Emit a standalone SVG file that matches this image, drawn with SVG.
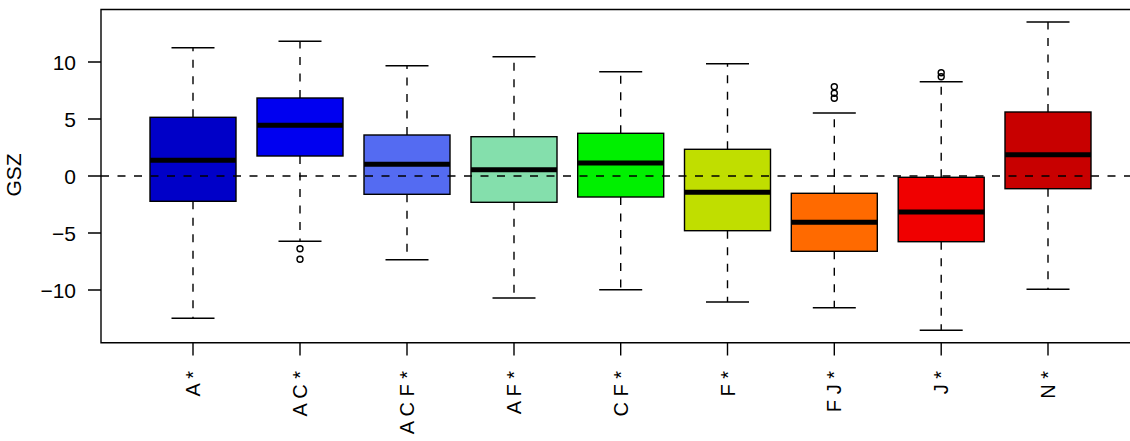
<svg xmlns="http://www.w3.org/2000/svg" width="1130" height="441" viewBox="0 0 1130 441">
<style>
text{font-family:"Liberation Sans",Arial,sans-serif;font-size:20px;fill:#000}
.box{stroke:#000;stroke-width:1.4}
.med{stroke:#000;stroke-width:5}
.wh{stroke:#000;stroke-width:1.4;stroke-dasharray:8 8.5;fill:none}
.cap{stroke:#000;stroke-width:1.4}
.out{fill:none;stroke:#000;stroke-width:1.4}
.ax{stroke:#000;stroke-width:1.4;fill:none}
.xl{text-anchor:end}
.yl{text-anchor:end;font-size:21px}
.ttl{text-anchor:middle;font-size:21px}
</style>
<rect width="1130" height="441" fill="#fff"/>
<g id="box-A">
<line class="wh" x1="193" y1="117.3" x2="193" y2="47.7"/>
<line class="wh" x1="193" y1="201.3" x2="193" y2="318.3"/>
<line class="cap" x1="171.5" y1="47.7" x2="214.5" y2="47.7"/>
<line class="cap" x1="171.5" y1="318.3" x2="214.5" y2="318.3"/>
<rect class="box" x="150" y="117.3" width="86" height="84" fill="#0000C8"/>
<line class="med" x1="150" y1="160.3" x2="236" y2="160.3"/>
</g>
<g id="box-AC">
<line class="wh" x1="300" y1="98" x2="300" y2="41.3"/>
<line class="wh" x1="300" y1="156" x2="300" y2="241.3"/>
<line class="cap" x1="278.5" y1="41.3" x2="321.5" y2="41.3"/>
<line class="cap" x1="278.5" y1="241.3" x2="321.5" y2="241.3"/>
<rect class="box" x="257" y="98" width="86" height="58" fill="#0000F0"/>
<line class="med" x1="257" y1="125.3" x2="343" y2="125.3"/>
<circle class="out" cx="300" cy="248.7" r="3"/>
<circle class="out" cx="300" cy="259.3" r="3"/>
</g>
<g id="box-ACF">
<line class="wh" x1="407" y1="135" x2="407" y2="65.7"/>
<line class="wh" x1="407" y1="194.3" x2="407" y2="259.7"/>
<line class="cap" x1="385.5" y1="65.7" x2="428.5" y2="65.7"/>
<line class="cap" x1="385.5" y1="259.7" x2="428.5" y2="259.7"/>
<rect class="box" x="364" y="135" width="86" height="59.3" fill="#546BF2"/>
<line class="med" x1="364" y1="164.3" x2="450" y2="164.3"/>
</g>
<g id="box-AF">
<line class="wh" x1="514" y1="136.7" x2="514" y2="56.7"/>
<line class="wh" x1="514" y1="202.3" x2="514" y2="298"/>
<line class="cap" x1="492.5" y1="56.7" x2="535.5" y2="56.7"/>
<line class="cap" x1="492.5" y1="298" x2="535.5" y2="298"/>
<rect class="box" x="471" y="136.7" width="86" height="65.6" fill="#84DFAC"/>
<line class="med" x1="471" y1="169.7" x2="557" y2="169.7"/>
</g>
<g id="box-CF">
<line class="wh" x1="620.7" y1="133.3" x2="620.7" y2="71.7"/>
<line class="wh" x1="620.7" y1="197" x2="620.7" y2="289.7"/>
<line class="cap" x1="599.2" y1="71.7" x2="642.2" y2="71.7"/>
<line class="cap" x1="599.2" y1="289.7" x2="642.2" y2="289.7"/>
<rect class="box" x="577.7" y="133.3" width="86" height="63.7" fill="#00F000"/>
<line class="med" x1="577.7" y1="163" x2="663.7" y2="163"/>
</g>
<g id="box-F">
<line class="wh" x1="727.5" y1="149.3" x2="727.5" y2="63.7"/>
<line class="wh" x1="727.5" y1="230.7" x2="727.5" y2="302"/>
<line class="cap" x1="706" y1="63.7" x2="749" y2="63.7"/>
<line class="cap" x1="706" y1="302" x2="749" y2="302"/>
<rect class="box" x="684.5" y="149.3" width="86" height="81.4" fill="#C0DE00"/>
<line class="med" x1="684.5" y1="192.3" x2="770.5" y2="192.3"/>
</g>
<g id="box-FJ">
<line class="wh" x1="834.3" y1="193.3" x2="834.3" y2="113"/>
<line class="wh" x1="834.3" y1="251.3" x2="834.3" y2="307.7"/>
<line class="cap" x1="812.8" y1="113" x2="855.8" y2="113"/>
<line class="cap" x1="812.8" y1="307.7" x2="855.8" y2="307.7"/>
<rect class="box" x="791.3" y="193.3" width="86" height="58" fill="#FF6A00"/>
<line class="med" x1="791.3" y1="222.3" x2="877.3" y2="222.3"/>
<circle class="out" cx="834.3" cy="86.7" r="3"/>
<circle class="out" cx="834.3" cy="93.3" r="3"/>
<circle class="out" cx="834.3" cy="98.3" r="3"/>
</g>
<g id="box-J">
<line class="wh" x1="941.2" y1="177.3" x2="941.2" y2="81.7"/>
<line class="wh" x1="941.2" y1="241.7" x2="941.2" y2="330.3"/>
<line class="cap" x1="919.7" y1="81.7" x2="962.7" y2="81.7"/>
<line class="cap" x1="919.7" y1="330.3" x2="962.7" y2="330.3"/>
<rect class="box" x="898.2" y="177.3" width="86" height="64.4" fill="#F00000"/>
<line class="med" x1="898.2" y1="212" x2="984.2" y2="212"/>
<circle class="out" cx="941.2" cy="72.7" r="3"/>
<circle class="out" cx="941.2" cy="76.7" r="3"/>
</g>
<g id="box-N">
<line class="wh" x1="1048" y1="112" x2="1048" y2="22"/>
<line class="wh" x1="1048" y1="188.7" x2="1048" y2="289.3"/>
<line class="cap" x1="1026.5" y1="22" x2="1069.5" y2="22"/>
<line class="cap" x1="1026.5" y1="289.3" x2="1069.5" y2="289.3"/>
<rect class="box" x="1005" y="112" width="86" height="76.7" fill="#C80000"/>
<line class="med" x1="1005" y1="154.7" x2="1091" y2="154.7"/>
</g>
<g id="connectors">
<line class="wh" x1="101" y1="176" x2="1130" y2="176"/>
</g>
<g id="axes">
<path class="ax" d="M1132 9.5 H101 V342.7 H1132"/>
<path class="ax" d="M88 62H101M88 119H101M88 176H101M88 233H101M88 290H101"/>
<path class="ax" d="M193 342.7V355.5M300 342.7V355.5M407 342.7V355.5M514 342.7V355.5M620.7 342.7V355.5M727.5 342.7V355.5M834.3 342.7V355.5M941.2 342.7V355.5M1048 342.7V355.5"/>
<text class="yl" x="76" y="69.5">10</text>
<text class="yl" x="76" y="126.5">5</text>
<text class="yl" x="76" y="183.5">0</text>
<text class="yl" x="76" y="240.5">−5</text>
<text class="yl" x="76" y="297.5">−10</text>
<text class="ttl" transform="translate(20.5,175) rotate(-90)">GSZ</text>
<text class="xl" transform="translate(200,371) rotate(-90)">A *</text>
<text class="xl" transform="translate(307,371) rotate(-90)">A C *</text>
<text class="xl" transform="translate(414,371) rotate(-90)">A C F *</text>
<text class="xl" transform="translate(521,371) rotate(-90)">A F *</text>
<text class="xl" transform="translate(627.7,371) rotate(-90)">C F *</text>
<text class="xl" transform="translate(734.5,371) rotate(-90)">F *</text>
<text class="xl" transform="translate(841.3,371) rotate(-90)">F J *</text>
<text class="xl" transform="translate(948.2,371) rotate(-90)">J *</text>
<text class="xl" transform="translate(1055,371) rotate(-90)">N *</text>
</g>
</svg>
